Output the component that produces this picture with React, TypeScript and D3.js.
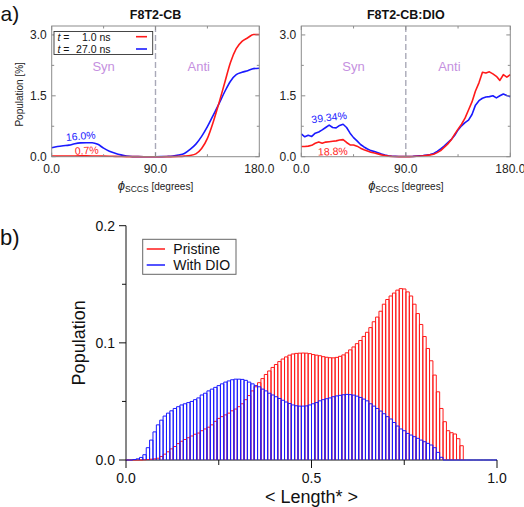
import React from 'react';
import * as d3 from 'd3';

// ---------- (a) dihedral distributions ----------
const phiCB = [0, 5, 10, 15, 20, 25, 30, 35, 40, 45, 50, 55, 60, 65, 70, 75, 80, 85, 90, 95, 100, 105, 110, 115, 120, 125, 130, 135, 140, 145, 150, 155, 160, 165, 170, 175, 180];
const cbT1 = [0.015, 0.015, 0.016, 0.017, 0.019, 0.02, 0.02, 0.019, 0.017, 0.014, 0.011, 0.008, 0.005, 0.003, 0.002, 0.001, 0, 0, 0, 0, 0.001, 0.003, 0.007, 0.015, 0.03, 0.07, 0.2, 0.45, 0.85, 1.32, 1.82, 2.32, 2.66, 2.84, 2.93, 3.01, 3.01];
const cbT27 = [0.22, 0.25, 0.27, 0.285, 0.32, 0.34, 0.345, 0.345, 0.305, 0.21, 0.135, 0.085, 0.045, 0.016, 0.003, 0.001, 0, 0, 0, 0.002, 0.006, 0.015, 0.04, 0.08, 0.18, 0.31, 0.5, 0.74, 1.02, 1.3, 1.6, 1.86, 2.02, 2.08, 2.12, 2.17, 2.18];

const phiDIO = [0, 3, 6, 9, 12, 15, 18, 21, 24, 27, 30, 33, 36, 39, 42, 45, 48, 51, 54, 57, 60, 63, 66, 69, 72, 75, 78, 81, 84, 87, 90, 93, 96, 99, 102, 105, 108, 111, 114, 117, 120, 123, 126, 129, 132, 135, 138, 141, 144, 147, 150, 153, 156, 159, 162, 165, 168, 171, 174, 177, 180];
const dioT1 = [0.25, 0.25, 0.26, 0.28, 0.33, 0.36, 0.33, 0.36, 0.37, 0.38, 0.39, 0.41, 0.42, 0.35, 0.29, 0.29, 0.26, 0.21, 0.17, 0.14, 0.11, 0.09, 0.07, 0.045, 0.03, 0.015, 0.008, 0.005, 0.003, 0.002, 0.002, 0.003, 0.005, 0.01, 0.015, 0.022, 0.032, 0.045, 0.06, 0.1, 0.15, 0.23, 0.31, 0.41, 0.55, 0.68, 0.8, 0.95, 1.15, 1.35, 1.62, 1.82, 2.08, 2.06, 2.09, 2.04, 1.98, 1.88, 2.02, 1.96, 2.02];
const dioT27 = [0.56, 0.49, 0.53, 0.5, 0.58, 0.61, 0.66, 0.72, 0.78, 0.72, 0.71, 0.77, 0.8, 0.72, 0.58, 0.47, 0.39, 0.3, 0.24, 0.19, 0.15, 0.13, 0.1, 0.065, 0.04, 0.025, 0.012, 0.008, 0.005, 0.004, 0.004, 0.005, 0.008, 0.015, 0.022, 0.03, 0.042, 0.055, 0.08, 0.13, 0.19, 0.26, 0.34, 0.42, 0.52, 0.66, 0.76, 0.84, 0.9, 1.04, 1.27, 1.38, 1.44, 1.47, 1.48, 1.5, 1.45, 1.5, 1.545, 1.51, 1.48];

const topYTicks = [0, 1.5, 3.0];
const topYMinor = [0.75, 2.25];
const topXTicks = [0, 90, 180];
const topXMinor = [45, 135];
const legendTimes = ['1.0', '27.0'];
const regionLabels = ['Syn', 'Anti'];
const regionPhi = [45, 127.5];

// ---------- (b) length histogram ----------
const BIN_WIDTH = 1 / 110;
const pristine = [
  0, 0, 0, 0, 0, 0.0002, 0.0004, 0.0007, 0.001, 0.0015,
  0.003, 0.005, 0.007, 0.0095, 0.0115, 0.014, 0.016, 0.0175, 0.019, 0.0205,
  0.022, 0.023, 0.025, 0.0265, 0.028, 0.03, 0.033, 0.0355, 0.037, 0.0385,
  0.04, 0.042, 0.0435, 0.0455, 0.048, 0.0515, 0.055, 0.059, 0.0625, 0.066,
  0.0695, 0.073, 0.076, 0.079, 0.0815, 0.084, 0.0862, 0.088, 0.0895, 0.0905,
  0.091, 0.0912, 0.0913, 0.0912, 0.0908, 0.09, 0.0895, 0.089, 0.0882, 0.0877,
  0.0873, 0.0872, 0.0876, 0.0885, 0.0897, 0.0915, 0.094, 0.0965, 0.0993, 0.102,
  0.1055, 0.109, 0.113, 0.118, 0.122, 0.127, 0.133, 0.137, 0.14, 0.1425,
  0.145, 0.1463, 0.146, 0.1435, 0.14, 0.133, 0.125, 0.1157, 0.1054, 0.0952,
  0.0847, 0.0725, 0.0582, 0.044, 0.0327, 0.025, 0.0233, 0.0222, 0.0182, 0.0122,
];
const withDIO = [
  0, 0, 0.0004, 0.001, 0.0022, 0.0045, 0.0105, 0.017, 0.024, 0.03,
  0.034, 0.0375, 0.04, 0.042, 0.044, 0.0455, 0.047, 0.048, 0.049, 0.05,
  0.0515, 0.053, 0.0555, 0.057, 0.059, 0.0605, 0.062, 0.0635, 0.065, 0.0665,
  0.0675, 0.0685, 0.069, 0.069, 0.0688, 0.068, 0.0665, 0.065, 0.0635, 0.0625,
  0.0605, 0.059, 0.057, 0.0555, 0.054, 0.0525, 0.051, 0.0495, 0.0482, 0.047,
  0.0463, 0.046, 0.046, 0.0462, 0.047, 0.048, 0.049, 0.0505, 0.0515, 0.0523,
  0.053, 0.054, 0.0547, 0.0552, 0.0557, 0.056, 0.0558, 0.0554, 0.0545, 0.0534,
  0.052, 0.0505, 0.048, 0.046, 0.044, 0.0418, 0.0395, 0.037, 0.035, 0.032,
  0.029, 0.0265, 0.025, 0.0227, 0.0213, 0.0199, 0.0185, 0.017, 0.0156, 0.0142,
  0.0128, 0.0105, 0.0065, 0.0023, 0, 0, 0, 0, 0, 0,
  0, 0, 0, 0, 0, 0, 0, 0, 0, 0,
];
const botYTicks = [0, 0.1, 0.2];
const botYMinor = [0.05, 0.15];
const botXTicks = [0, 0.5, 1.0];
const botXMinor = [0.25, 0.75];
const histLegend = ['Pristine', 'With DIO'];

const FONT = "'Liberation Sans', Arial, Helvetica, sans-serif";
const RED = '#ff1a1a';
const BLUE = '#1a1aff';
const PURPLE = '#c590e0';
const FRAME = '#8c8c8c';

type Note = { text: string; phi: number; v: number; color: string; rot: number };

function TopPanel(props: {
  x0: number; x1: number; title: string; phi: number[]; t1: number[]; t27: number[];
  showYLabel: boolean; showLegend: boolean; notes: Note[]; smooth: boolean;
}) {
  const { x0, x1, title, phi, t1, t27, showYLabel, showLegend, notes, smooth } = props;
  const x = d3.scaleLinear().domain([0, 180]).range([x0, x1]);
  const y = d3.scaleLinear().domain([0, 3.22]).range([156.7, 26]);
  const [yb, yt] = y.range();
  const mk = (vals: number[]) =>
    d3.line<number>()
      .x((_, i) => x(phi[i]))
      .y((d) => y(d))
      .curve(smooth ? d3.curveMonotoneX : d3.curveLinear)(vals) || '';
  const cx = (x0 + x1) / 2;
  return (
    <g fontFamily={FONT}>
      <text x={cx} y={19} textAnchor="middle" fontSize={12.5} fontWeight="bold" fill="#111">{title}</text>
      {/* dashed divider */}
      <line x1={x(90)} x2={x(90)} y1={yt} y2={yb} stroke="#a9a9b8" strokeWidth={1.4} strokeDasharray="6,3" />
      {regionLabels.map((r, i) => (
        <text key={r} x={x(regionPhi[i])} y={70.5} textAnchor="middle" fontSize={13} fill={PURPLE}>{r}</text>
      ))}
      <path d={mk(t27)} fill="none" stroke={BLUE} strokeWidth={1.6} strokeLinejoin="round" />
      <path d={mk(t1)} fill="none" stroke={RED} strokeWidth={1.6} strokeLinejoin="round" />
      {/* frame */}
      <rect x={x0} y={yt} width={x1 - x0} height={yb - yt} fill="none" stroke={FRAME} strokeWidth={1} />
      {topYTicks.map((t) => (
        <g key={'y' + t}>
          <line x1={x0} x2={x0 + 4} y1={y(t)} y2={y(t)} stroke={FRAME} />
          <line x1={x1} x2={x1 - 4} y1={y(t)} y2={y(t)} stroke={FRAME} />
          <text x={x0 - 5} y={y(t)} dy="0.36em" textAnchor="end" fontSize={12} fill="#222">{t.toFixed(1)}</text>
        </g>
      ))}
      {topYMinor.map((t) => (
        <g key={'ym' + t}>
          <line x1={x0} x2={x0 + 2.5} y1={y(t)} y2={y(t)} stroke={FRAME} />
          <line x1={x1} x2={x1 - 2.5} y1={y(t)} y2={y(t)} stroke={FRAME} />
        </g>
      ))}
      {topXTicks.map((t) => (
        <g key={'x' + t}>
          <line x1={x(t)} x2={x(t)} y1={yb} y2={yb - 4} stroke={FRAME} />
          <line x1={x(t)} x2={x(t)} y1={yt} y2={yt + 4} stroke={FRAME} />
          <text x={x(t)} y={173} textAnchor="middle" fontSize={12} fill="#222">{t.toFixed(1)}</text>
        </g>
      ))}
      {topXMinor.map((t) => (
        <g key={'xm' + t}>
          <line x1={x(t)} x2={x(t)} y1={yb} y2={yb - 2.5} stroke={FRAME} />
          <line x1={x(t)} x2={x(t)} y1={yt} y2={yt + 2.5} stroke={FRAME} />
        </g>
      ))}
      <text x={cx} y={190} textAnchor="middle" fontSize={10} fill="#222">
        <tspan fontStyle="italic" fontSize={13}>ϕ</tspan>
        <tspan fontSize={8.5} dy={2}>SCCS</tspan>
        <tspan fontSize={10} dy={-2}> [degrees]</tspan>
      </text>
      {showYLabel && (
        <text transform={`translate(22.5, ${(yb + yt) / 2 + 3}) rotate(-90)`} textAnchor="middle" fontSize={10} fill="#222">Population [%]</text>
      )}
      {showLegend && (
        <g>
          <rect x={54} y={31.5} width={98.7} height={23} fill="white" stroke="#333" strokeWidth={0.9} />
          {legendTimes.map((tm, i) => (
            <g key={tm}>
              <text x={57.5} y={40.8 + i * 11.8} fontSize={10.5} fill="#111">
                <tspan fontStyle="italic">t</tspan> =
              </text>
              <text x={110.5} y={40.8 + i * 11.8} fontSize={10.5} textAnchor="end" fill="#111">{tm} ns</text>
              <line x1={136} x2={147} y1={36.7 + i * 12.3} y2={36.7 + i * 12.3} stroke={i === 0 ? RED : BLUE} strokeWidth={1.6} />
            </g>
          ))}
        </g>
      )}
      {notes.map((n) => (
        <text key={n.text} transform={`translate(${x(n.phi)}, ${y(n.v)}) rotate(${n.rot})`} textAnchor="middle" fontSize={10.5} fill={n.color}>{n.text}</text>
      ))}
    </g>
  );
}

function Histogram() {
  const x = d3.scaleLinear().domain([0, 1]).range([126, 497]);
  const y = d3.scaleLinear().domain([0, 0.2]).range([460, 225.7]);
  const y0 = y(0);
  const bar = (v: number, i: number) => {
    const xl = x(i * BIN_WIDTH);
    const xr = x((i + 1) * BIN_WIDTH);
    return `M${xl},${y0}V${y(v)}H${xr}V${y0}`;
  };
  return (
    <g fontFamily={FONT}>
      {/* axes */}
      <line x1={x(0)} x2={x(1)} y1={y0} y2={y0} stroke="#111" strokeWidth={1} />
      <line x1={x(0)} x2={x(0)} y1={y(0)} y2={y(0.2)} stroke="#111" strokeWidth={1} />
      {pristine.map((v, i) => (
        <path key={'p' + i} d={bar(v, i)} fill="none" stroke={RED} strokeWidth={1} />
      ))}
      {withDIO.map((v, i) => (
        <path key={'d' + i} d={bar(v, i)} fill="none" stroke={BLUE} strokeWidth={1} />
      ))}
      {botYTicks.map((t) => (
        <g key={'y' + t}>
          <line x1={x(0) - 7} x2={x(0)} y1={y(t)} y2={y(t)} stroke="#111" />
          <text x={115} y={y(t)} dy="0.36em" textAnchor="end" fontSize={14} fill="#111">{t.toFixed(1)}</text>
        </g>
      ))}
      {botYMinor.map((t) => (
        <line key={'ym' + t} x1={x(0) - 4} x2={x(0)} y1={y(t)} y2={y(t)} stroke="#111" />
      ))}
      {botXTicks.map((t) => (
        <g key={'x' + t}>
          <line x1={x(t)} x2={x(t)} y1={y0} y2={y0 + 8} stroke="#111" />
          <text x={x(t)} y={483} textAnchor="middle" fontSize={14} fill="#111">{t.toFixed(1)}</text>
        </g>
      ))}
      {botXMinor.map((t) => (
        <line key={'xm' + t} x1={x(t)} x2={x(t)} y1={y0} y2={y0 + 5} stroke="#111" />
      ))}
      <text x={x(0.5)} y={502.5} textAnchor="middle" fontSize={18} fill="#111">{'< Length* >'}</text>
      <text transform={`translate(85, ${y(0.1)}) rotate(-90)`} textAnchor="middle" fontSize={18} fill="#111">Population</text>
      {/* legend */}
      <rect x={142.7} y={239.3} width={93.3} height={35} fill="white" stroke="#666" strokeWidth={1} />
      {histLegend.map((l, i) => (
        <g key={l}>
          <line x1={146.7} x2={165} y1={249 + i * 16} y2={249 + i * 16} stroke={i === 0 ? RED : BLUE} strokeWidth={1.5} />
          <text x={173.3} y={254 + i * 16} fontSize={14} fill="#111">{l}</text>
        </g>
      ))}
    </g>
  );
}

export default function App() {
  return (
    <svg width={524} height={507} style={{ position: 'absolute', left: 0, top: 0, background: 'white' }}>
      <rect width={524} height={507} fill="white" />
      <text x={0.5} y={21} fontFamily={FONT} fontSize={21} fill="#111">a)</text>
      <text x={0} y={245} fontFamily={FONT} fontSize={22} fill="#111">b)</text>
      <TopPanel
        x0={51.7} x1={259.3} title="F8T2-CB" phi={phiCB} t1={cbT1} t27={cbT27}
        showYLabel showLegend smooth
        notes={[
          { text: '16.0%', phi: 25.4, v: 0.42, color: BLUE, rot: -5 },
          { text: '0.7%', phi: 30.6, v: 0.065, color: RED, rot: -3 },
        ]}
      />
      <TopPanel
        x0={301.3} x1={510.3} title="F8T2-CB:DIO" phi={phiDIO} t1={dioT1} t27={dioT27}
        showYLabel={false} showLegend={false} smooth={false}
        notes={[
          { text: '39.34%', phi: 24.3, v: 0.88, color: BLUE, rot: -7 },
          { text: '18.8%', phi: 27.3, v: 0.04, color: RED, rot: -2 },
        ]}
      />
      <Histogram />
    </svg>
  );
}
